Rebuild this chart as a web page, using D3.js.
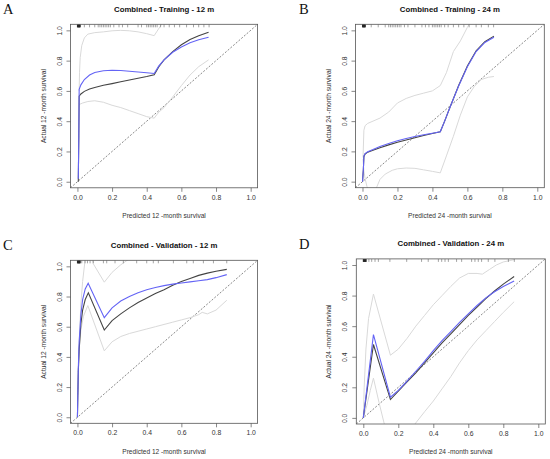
<!DOCTYPE html>
<html>
<head>
<meta charset="utf-8">
<script src="https://cdn.jsdelivr.net/npm/d3@7"></script>
<style>
  body { margin: 0; background: #fff; }
  text { font-family: "Liberation Sans", Arial, sans-serif; }
</style>
</head>
<body>
<svg id="fig" width="550" height="459"></svg>
<script>
// ---- data ----
const tickValues = [0, 0.2, 0.4, 0.6, 0.8, 1.0];
const tickLabels = ["0.0", "0.2", "0.4", "0.6", "0.8", "1.0"];
const panelLetters = ["A", "B", "C", "D"];
const panelTitles = [
  "Combined - Training - 12 m",
  "Combined - Training - 24 m",
  "Combined - Validation - 12 m",
  "Combined - Validation - 24 m"
];
const panelMonths = [12, 24, 12, 24];

// dense cluster of predictions close to zero (drawn as a dark block in the rug)
const rugNearZero = [0,0.002,0.004,0.006,0.008,0.01,0.012,0.014,0.016];

// panel A: training, 12 months
const aObserved = [[0.005,0],[0.008,0.3],[0.01,0.565],[0.02,0.58],[0.04,0.597],[0.07,0.612],[0.1,0.623],[0.15,0.637],[0.2,0.648],[0.25,0.66],[0.3,0.672],[0.35,0.684],[0.4,0.695],[0.443,0.707],[0.47,0.76],[0.5,0.805],[0.55,0.86],[0.6,0.905],[0.65,0.94],[0.7,0.965],[0.757,0.987]];
const aCorrected = [[0.005,0.02],[0.008,0.3],[0.01,0.61],[0.02,0.64],[0.04,0.675],[0.07,0.705],[0.1,0.722],[0.15,0.733],[0.2,0.736],[0.25,0.735],[0.3,0.73],[0.35,0.725],[0.4,0.72],[0.443,0.715],[0.47,0.765],[0.5,0.805],[0.55,0.855],[0.6,0.89],[0.65,0.918],[0.7,0.938],[0.757,0.954]];
const aUpper = [[0.01,0.6],[0.012,0.72],[0.016,0.82],[0.025,0.9],[0.04,0.95],[0.06,0.975],[0.1,0.985],[0.15,0.99],[0.2,0.997],[0.25,1.0],[0.3,0.997],[0.35,0.99],[0.4,0.978],[0.443,0.965],[0.46,0.995],[0.48,1.03],[0.5,1.07]];
const aLower = [[0.01,0.51],[0.03,0.52],[0.06,0.53],[0.1,0.535],[0.15,0.525],[0.2,0.505],[0.25,0.49],[0.3,0.47],[0.35,0.45],[0.4,0.43],[0.443,0.42],[0.47,0.46],[0.5,0.49],[0.55,0.56],[0.6,0.635],[0.65,0.705],[0.7,0.76],[0.757,0.805]];
const aRug = [0.04,0.07,0.1,0.12,0.13,0.14,0.15,0.16,0.17,0.18,0.19,0.21,0.24,0.26,0.29,0.35,0.37,0.4,0.41,0.42,0.43,0.44,0.45,0.46,0.48,0.5,0.53,0.56,0.59,0.63,0.67,0.7,0.73,0.76];

// panel B: training, 24 months
const bObserved = [[0,0],[0.005,0.08],[0.008,0.165],[0.015,0.183],[0.03,0.195],[0.06,0.207],[0.1,0.224],[0.15,0.243],[0.2,0.26],[0.25,0.275],[0.3,0.29],[0.35,0.305],[0.4,0.318],[0.445,0.33],[0.47,0.4],[0.5,0.49],[0.55,0.635],[0.6,0.765],[0.65,0.865],[0.7,0.925],[0.752,0.962]];
const bCorrected = [[0,0],[0.005,0.08],[0.008,0.17],[0.015,0.186],[0.03,0.198],[0.06,0.212],[0.1,0.232],[0.15,0.252],[0.2,0.27],[0.25,0.285],[0.3,0.298],[0.35,0.31],[0.4,0.32],[0.445,0.33],[0.47,0.4],[0.5,0.49],[0.55,0.632],[0.6,0.76],[0.65,0.86],[0.7,0.92],[0.752,0.955]];
const bUpper = [[0.003,0.16],[0.008,0.34],[0.015,0.37],[0.03,0.385],[0.06,0.4],[0.1,0.42],[0.15,0.46],[0.2,0.52],[0.25,0.55],[0.3,0.57],[0.35,0.585],[0.4,0.6],[0.445,0.635],[0.48,0.72],[0.52,0.86],[0.56,0.93],[0.6,1.02],[0.62,1.06]];
const bLower = [[0.003,0.15],[0.008,0.07],[0.015,0.02],[0.025,-0.03],[0.04,-0.08],[0.06,-0.1],[0.08,-0.04],[0.1,0.015],[0.13,0.05],[0.17,0.075],[0.2,0.085],[0.25,0.09],[0.3,0.088],[0.35,0.078],[0.4,0.068],[0.445,0.058],[0.48,0.17],[0.52,0.3],[0.56,0.44],[0.6,0.56],[0.64,0.63],[0.68,0.675],[0.72,0.69],[0.752,0.695]];
const bRug = [0.05,0.09,0.13,0.15,0.16,0.17,0.18,0.19,0.2,0.21,0.22,0.24,0.26,0.3,0.34,0.36,0.38,0.4,0.41,0.42,0.43,0.44,0.45,0.47,0.49,0.52,0.55,0.58,0.61,0.65,0.68,0.72,0.75];

// panel C: validation, 12 months
const cObserved = [[0,0],[0.005,0.3],[0.01,0.45],[0.02,0.62],[0.03,0.71],[0.045,0.78],[0.063,0.825],[0.155,0.578],[0.2,0.64],[0.25,0.685],[0.3,0.725],[0.35,0.76],[0.4,0.79],[0.45,0.82],[0.5,0.845],[0.55,0.875],[0.6,0.9],[0.65,0.92],[0.7,0.94],[0.75,0.955],[0.8,0.967],[0.862,0.98]];
const cCorrected = [[0,0],[0.005,0.32],[0.01,0.5],[0.02,0.68],[0.03,0.78],[0.045,0.85],[0.062,0.888],[0.155,0.66],[0.2,0.725],[0.25,0.77],[0.3,0.8],[0.35,0.825],[0.4,0.845],[0.45,0.86],[0.5,0.872],[0.55,0.882],[0.6,0.89],[0.65,0.897],[0.7,0.905],[0.75,0.912],[0.8,0.925],[0.862,0.945]];
const cUpper = [[0.002,0.15],[0.01,0.5],[0.02,0.75],[0.03,0.9],[0.044,1.04],[0.06,1.12],[0.075,1.1],[0.09,1.02],[0.155,0.895],[0.2,0.96],[0.25,1.01],[0.3,1.05]];
const cLower = [[0.005,0.3],[0.01,0.45],[0.02,0.58],[0.035,0.67],[0.06,0.74],[0.155,0.44],[0.2,0.5],[0.25,0.535],[0.3,0.555],[0.35,0.57],[0.4,0.585],[0.45,0.6],[0.5,0.615],[0.55,0.63],[0.6,0.645],[0.65,0.66],[0.7,0.68],[0.72,0.695],[0.75,0.685],[0.8,0.71],[0.862,0.775]];
const cRug = [0.025,0.044,0.058,0.073,0.092,0.15,0.169,0.217,0.265,0.342,0.4,0.438,0.467,0.554,0.631,0.669,0.727,0.785,0.862];

// panel D: validation, 24 months
const dObserved = [[0,0],[0.058,0.48],[0.155,0.12],[0.2,0.175],[0.25,0.235],[0.3,0.295],[0.35,0.36],[0.4,0.425],[0.45,0.49],[0.5,0.55],[0.55,0.61],[0.6,0.67],[0.65,0.725],[0.7,0.78],[0.75,0.83],[0.8,0.875],[0.862,0.925]];
const dCorrected = [[0,0],[0.058,0.545],[0.155,0.135],[0.2,0.18],[0.25,0.24],[0.3,0.305],[0.35,0.37],[0.4,0.44],[0.45,0.505],[0.5,0.565],[0.55,0.625],[0.6,0.68],[0.65,0.735],[0.7,0.785],[0.75,0.825],[0.8,0.86],[0.862,0.895]];
const dUpper = [[0,0],[0.005,0.2],[0.015,0.45],[0.03,0.65],[0.058,0.81],[0.155,0.41],[0.2,0.45],[0.25,0.52],[0.3,0.6],[0.35,0.67],[0.4,0.74],[0.45,0.8],[0.5,0.86],[0.55,0.915],[0.6,0.945],[0.65,0.945],[0.68,0.94],[0.72,0.97],[0.76,1.0],[0.8,1.02],[0.862,1.035]];
const dLower = [[0,0],[0.02,0.08],[0.04,0.18],[0.058,0.26],[0.09,0.1],[0.12,-0.04],[0.15,-0.2],[0.2,-0.3],[0.25,-0.2],[0.295,-0.04],[0.35,0.04],[0.4,0.11],[0.45,0.19],[0.5,0.27],[0.55,0.36],[0.6,0.44],[0.65,0.51],[0.7,0.57],[0.75,0.63],[0.8,0.69],[0.862,0.76]];
const dRug = [0.032,0.048,0.067,0.086,0.152,0.248,0.333,0.371,0.429,0.448,0.467,0.486,0.533,0.562,0.619,0.638,0.657,0.676,0.714,0.752,0.829,0.863];

const panelSeries = [
  { observed: aObserved, corrected: aCorrected, upper: aUpper, lower: aLower, rug: aRug },
  { observed: bObserved, corrected: bCorrected, upper: bUpper, lower: bLower, rug: bRug },
  { observed: cObserved, corrected: cCorrected, upper: cUpper, lower: cLower, rug: cRug },
  { observed: dObserved, corrected: dCorrected, upper: dUpper, lower: dLower, rug: dRug }
];

// ---- layout (pixel boxes of each plot region) ----
const boxes = [
  { left: 70.5, right: 257.6, top: 24.3, bottom: 187.8, letterX: 3 },
  { left: 355.5, right: 544.3, top: 24.3, bottom: 187.7, letterX: 299 },
  { left: 70.5, right: 257.6, top: 260.3, bottom: 423.3, letterX: 3 },
  { left: 356.3, right: 545.3, top: 258.9, bottom: 424.0, letterX: 299 }
];

const svg = d3.select("#fig");

const draw = function (i) {
  const b = boxes[i];
  const s = panelSeries[i];
  const x = d3.scaleLinear().domain([-0.04, 1.04]).range([b.left, b.right]);
  const y = d3.scaleLinear().domain([-0.04, 1.04]).range([b.bottom, b.top]);
  const g = svg.append("g");
  const cx = (b.left + b.right) / 2;
  const cy = (b.top + b.bottom) / 2;

  g.append("clipPath").attr("id", "clip" + i)
    .append("rect")
    .attr("x", b.left).attr("y", b.top)
    .attr("width", b.right - b.left).attr("height", b.bottom - b.top);

  const plot = g.append("g").attr("clip-path", "url(#clip" + i + ")");
  const line = d3.line().x(d => x(d[0])).y(d => y(d[1]));

  // ideal diagonal
  plot.append("path")
    .attr("d", line([[-0.04, -0.04], [1.04, 1.04]]))
    .attr("fill", "none").attr("stroke", "#555")
    .attr("stroke-width", 0.7).attr("stroke-dasharray", "2,1.6");

  // confidence bands
  [s.upper, s.lower].forEach(band => {
    plot.append("path").attr("d", line(band))
      .attr("fill", "none").attr("stroke", "#d9d9d9").attr("stroke-width", 1);
  });

  plot.append("path").attr("d", line(s.observed))
    .attr("fill", "none").attr("stroke", "#444").attr("stroke-width", 1.1);
  plot.append("path").attr("d", line(s.corrected))
    .attr("fill", "none").attr("stroke", "#6464f5").attr("stroke-width", 1.1);

  // rug of predicted risks along the top
  plot.selectAll(".rug").data(rugNearZero.concat(s.rug)).enter().append("line")
    .attr("x1", d => x(d)).attr("x2", d => x(d))
    .attr("y1", b.top).attr("y2", b.top + 3)
    .attr("stroke", d => d < 0.02 ? "#222" : "#666")
    .attr("stroke-width", d => d < 0.02 ? 0.9 : 0.6);

  // frame
  g.append("rect")
    .attr("x", b.left).attr("y", b.top)
    .attr("width", b.right - b.left).attr("height", b.bottom - b.top)
    .attr("fill", "none").attr("stroke", "#555").attr("stroke-width", 0.8);

  // axes
  const xAxis = d3.axisBottom(x).tickValues(tickValues)
    .tickFormat((d, k) => tickLabels[k]).tickSize(4).tickPadding(3);
  const gx = g.append("g").attr("transform", "translate(0," + b.bottom + ")").call(xAxis);
  const yAxis = d3.axisLeft(y).tickValues(tickValues)
    .tickFormat((d, k) => tickLabels[k]).tickSize(4);
  const gy = g.append("g").attr("transform", "translate(" + b.left + ",0)").call(yAxis);

  [gx, gy].forEach(ax => {
    ax.select(".domain").remove();
    ax.selectAll(".tick line").attr("stroke", "#555").attr("stroke-width", 0.7);
    ax.selectAll(".tick text").attr("fill", "#333")
      .style("font-size", "6.8px").style("font-family", "Liberation Sans, Arial, sans-serif");
  });
  gy.selectAll(".tick text")
    .attr("x", null).attr("dy", null)
    .attr("text-anchor", "middle")
    .attr("transform", "translate(-9,0) rotate(-90)");

  // titles
  g.append("text").attr("x", cx).attr("y", b.top - 12.5)
    .attr("text-anchor", "middle").attr("font-weight", "bold")
    .attr("font-size", 7.8).attr("fill", "#111")
    .text(panelTitles[i]);

  g.append("text").attr("x", cx).attr("y", b.bottom + 30.3)
    .attr("text-anchor", "middle").attr("font-size", 6.6).attr("fill", "#333")
    .text("Predicted " + panelMonths[i] + " -month survival");

  g.append("text")
    .attr("transform", "translate(" + (b.left - 25) + "," + cy + ") rotate(-90)")
    .attr("text-anchor", "middle").attr("font-size", 6.6).attr("fill", "#333")
    .text("Actual " + panelMonths[i] + " -month survival");

  g.append("text").attr("x", b.letterX).attr("y", b.top - 10)
    .style("font-family", "Liberation Serif, serif")
    .attr("font-size", 14.5).attr("fill", "#111")
    .text(panelLetters[i]);
};

for (let i = 0; i < 4; i++) {
  draw(i);
}
</script>
</body>
</html>
